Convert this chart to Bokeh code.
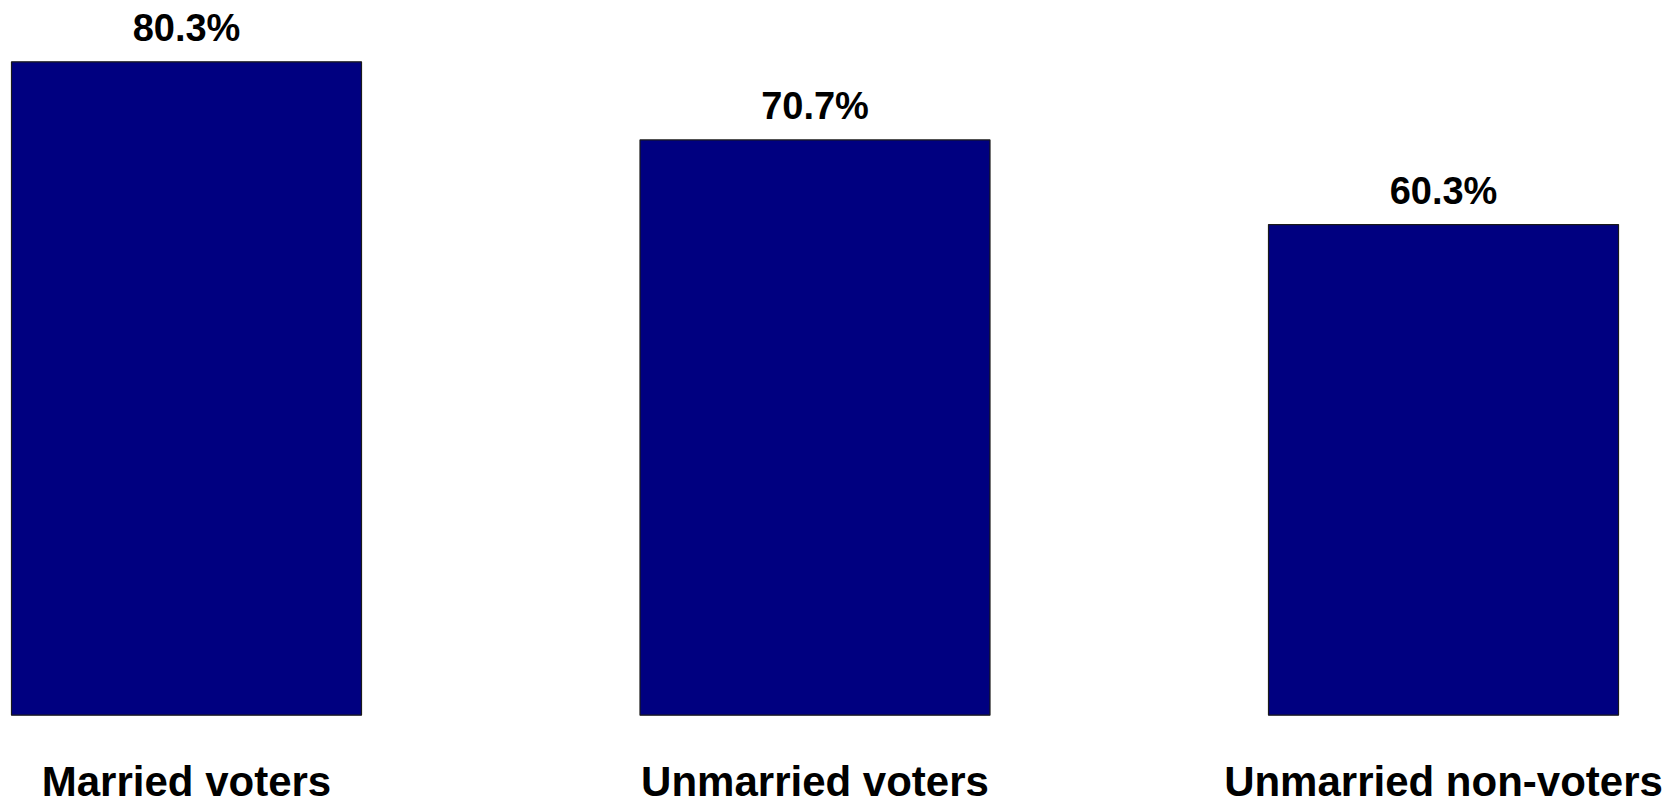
from bokeh.plotting import figure
from bokeh.models import ColumnDataSource, Range1d
from bokeh.core.properties import value
from bokeh.embed import file_html
from bokeh.resources import INLINE

categories = ["Married voters", "Unmarried voters", "Unmarried non-voters"]
values = [80.3, 70.7, 60.3]
value_labels = ["80.3%", "70.7%", "60.3%"]

W, H = 1673, 798
unit_px = 628.5          # pixels between bar centres
first_center = 186.0
base_px = 714.7          # pixel row of the zero line
px_per_val = 653.4 / 80.3

x_start = -first_center / unit_px
x_end = x_start + W / unit_px
y_top = base_px / px_per_val
y_bottom = -(H - base_px) / px_per_val

src = ColumnDataSource(dict(
    x=list(range(len(categories))),
    cat=categories,
    val=values,
    lab=value_labels,
    zero=[0] * len(categories),
))

p = figure(width=W, height=H, output_backend="svg", toolbar_location=None,
           x_range=Range1d(x_start, x_end), y_range=Range1d(y_bottom, y_top),
           x_axis_type=None, y_axis_type=None, min_border=0)
p.outline_line_color = None
p.grid.visible = False
p.background_fill_color = "white"
p.border_fill_color = "white"

p.vbar(x="x", top="val", bottom=0, width=350 / unit_px, source=src,
       fill_color="#000080", line_color="#1a1a1a", line_width=1.2)

p.text(x="x", y="val", text="lab", source=src, text_align="center",
       text_baseline="alphabetic", y_offset=-34,
       text_font=value("Liberation Sans"), text_font_style="bold",
       text_font_size="38px", text_color="black")

p.text(x="x", y="zero", text="cat", source=src, text_align="center",
       text_baseline="alphabetic", y_offset=66,
       text_font=value("Liberation Sans"), text_font_style="bold",
       text_font_size="42px", text_color="black")

open("out.html", "w").write(file_html(p, INLINE))
